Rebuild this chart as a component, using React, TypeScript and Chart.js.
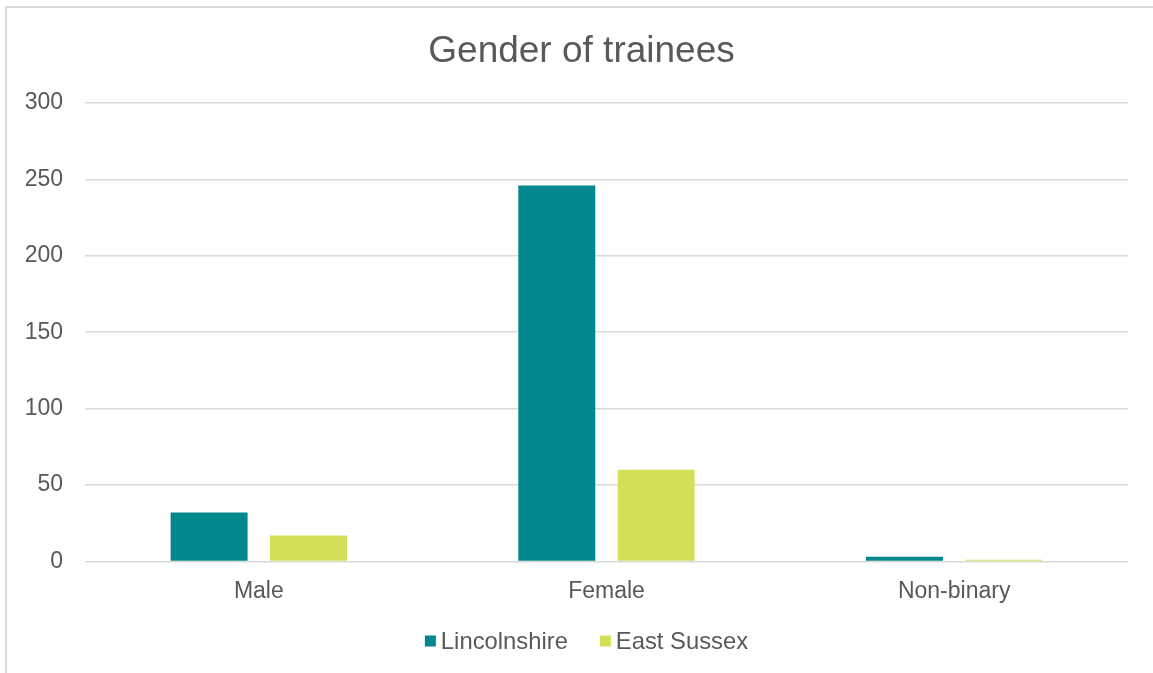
import React, { useEffect, useRef } from "react";
import { Chart, registerables } from "chart.js";

Chart.register(...registerables);

const categories = ["Male", "Female", "Non-binary"];
const lincolnshire = [32, 246, 3];
const eastSussex = [17, 60, 1];
const seriesNames = ["Lincolnshire", "East Sussex"];
const seriesColors = ["#00888E", "#D4DF58"];
const titleText = "Gender of trainees";

const FONT = "'Liberation Sans', Arial, sans-serif";
const TEXT = "#595959";

const titleAndLegend = {
  id: "titleAndLegend",
  afterDraw(chart: any) {
    const ctx = chart.ctx as CanvasRenderingContext2D;
    const datasets = chart.data.datasets;
    const cx = (chart.width + 10) / 2;
    ctx.save();
    // title
    ctx.font = `37px ${FONT}`;
    ctx.fillStyle = TEXT;
    ctx.textAlign = "center";
    ctx.textBaseline = "middle";
    ctx.fillText(titleText, cx, 52);
    // legend
    ctx.font = `23.8px ${FONT}`;
    ctx.textAlign = "left";
    const box = 11;
    const gapText = 5;
    const gapItem = 32;
    const widths = datasets.map((d: any) => ctx.measureText(d.label).width);
    let total = 0;
    widths.forEach((w: number, i: number) => {
      total += box + gapText + w + (i < widths.length - 1 ? gapItem : 0);
    });
    const cy = chart.height - 32;
    let x = (chart.width + 20) / 2 - total / 2;
    datasets.forEach((d: any, i: number) => {
      ctx.fillStyle = d.backgroundColor;
      ctx.fillRect(x, cy - box / 2, box, box);
      x += box + gapText;
      ctx.fillStyle = TEXT;
      ctx.fillText(d.label, x, cy + 1);
      x += widths[i] + gapItem;
    });
    ctx.restore();
  },
};

export default function App() {
  const ref = useRef<HTMLCanvasElement | null>(null);

  useEffect(() => {
    if (!ref.current) return;
    const chart = new Chart(ref.current, {
      type: "bar",
      data: {
        labels: categories,
        datasets: [
          {
            label: seriesNames[0],
            data: lincolnshire,
            backgroundColor: seriesColors[0],
            categoryPercentage: 0.572,
            barPercentage: 0.774,
          },
          {
            label: seriesNames[1],
            data: eastSussex,
            backgroundColor: seriesColors[1],
            categoryPercentage: 0.572,
            barPercentage: 0.774,
          },
        ],
      },
      options: {
        responsive: false,
        animation: false,
        layout: { padding: { top: 103, right: 25, bottom: 52, left: 0 } },
        plugins: {
          title: { display: false },
          legend: { display: false },
          tooltip: { enabled: false },
        },
        scales: {
          x: {
            grid: { display: false, drawTicks: false },
            border: { display: false },
            ticks: {
              color: TEXT,
              font: { family: FONT, size: 23 },
              padding: 16,
            },
          },
          y: {
            min: 0,
            max: 300,
            grid: { color: "#d9d9d9", lineWidth: 1.5, drawTicks: false },
            border: { display: false },
            ticks: {
              stepSize: 50,
              color: TEXT,
              font: { family: FONT, size: 23 },
              padding: 22,
            },
            afterFit: (scale: any) => {
              scale.width = 85;
            },
          },
        },
      },
      plugins: [titleAndLegend],
    });
    return () => chart.destroy();
  }, []);

  return (
    <div style={{ position: "fixed", left: 0, top: 0, width: 1153, height: 673, background: "#fff" }}>
      <div
        style={{
          position: "absolute",
          left: 5,
          top: 6,
          width: 1160,
          height: 680,
          border: "2px solid #d9d9d9",
          boxSizing: "border-box",
        }}
      />
      <canvas ref={ref} width={1153} height={673} style={{ position: "absolute", left: 0, top: 0 }} />
    </div>
  );
}
